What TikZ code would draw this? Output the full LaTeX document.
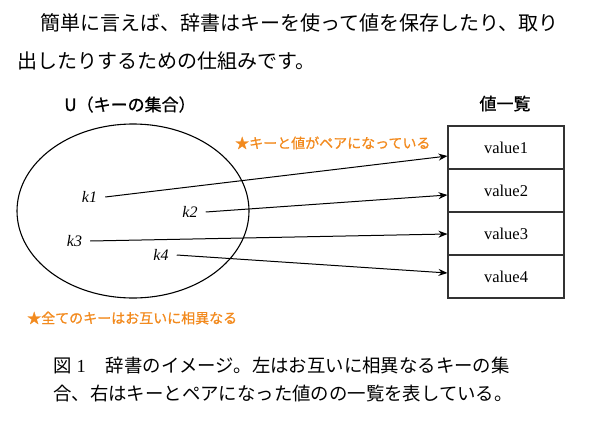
\documentclass[tikz,border=0pt]{standalone}
\usepackage{fontspec}
\setmainfont{Liberation Serif}
\newfontfamily\jp{Noto Sans CJK JP}
\newfontfamily\jpm[FakeBold=0.8]{Noto Sans CJK JP}
\XeTeXlinebreaklocale "ja"
\XeTeXlinebreakskip=0pt plus 2pt
\usetikzlibrary{shapes.geometric,arrows.meta,calc}
\definecolor{orng}{HTML}{F28A1E}
\begin{document}
\begin{tikzpicture}[x=1pt,y=-1pt,
  body/.style={anchor=base west,inner sep=0pt,font=\jp\fontsize{20}{20}\selectfont},
  captext/.style={anchor=base west,inner sep=0pt,font=\jp\fontsize{18.4}{18.4}\selectfont},
  note/.style={anchor=base west,inner sep=0pt,text=orng,font=\jpm\fontsize{14}{14}\selectfont},
  heading/.style={anchor=base,inner sep=0pt,font=\jpm\fontsize{17}{17}\selectfont},
  key/.style={inner xsep=8pt,inner ysep=1pt,font=\itshape\fontsize{16}{16}\selectfont},
  valbox/.style={draw=black!80,line width=1.1pt,minimum width=116pt,minimum height=43pt,inner sep=0pt,font=\fontsize{16.5}{16.5}\selectfont},
  link/.style={line width=1pt,-{Stealth[length=9pt,width=7pt]}}]
\useasboundingbox (0,0) rectangle (597,426);
% paragraph
\node[body] (p1) at (40,30) {簡単に言えば、辞書はキーを使って値を保存したり、取り};
\node[body] (p2) at (17,68) {出したりするための仕組みです。};
% titles
\node[heading] (tU) at (130,111) {U（キーの集合）};
\node[heading] (tV) at (505,110) {値一覧};
% set
\node[ellipse,draw,line width=1.1pt,minimum width=232pt,minimum height=174pt,inner sep=0pt] (U) at (133,211) {};
\node[key] (k1) at (89.5,197) {k1};
\node[key] (k2) at (190,212) {k2};
\node[key] (k3) at (74.5,241) {k3};
\node[key] (k4) at (161,255) {k4};
% values
\node[valbox] (v1) at (506,147.5) {value1};
\node[valbox] (v2) at (506,190.5) {value2};
\node[valbox] (v3) at (506,233.5) {value3};
\node[valbox] (v4) at (506,276.5) {value4};
% arrows
\draw[link] (k1.east) -- ($(v1.west)+(0,8.5)$);
\draw[link] (k2.east) -- ($(v2.west)+(0,4.5)$);
\draw[link] (k3.east) -- ($(v3.west)+(0,0.5)$);
\draw[link] (k4.east) -- ($(v4.west)+(0,-3.5)$);
% notes
\node[note] (n1) at (235,148.3) {★キーと値がペアになっている};
\node[note] (n2) at (27,323.3) {★全てのキーはお互いに相異なる};
% caption
\node[captext] (c1) at (53,372) {\hbox to 477pt{図\hspace{5pt}{\rmfamily 1}\hspace{20pt}辞書のイメージ。左はお互いに相異なるキーの集}};
\node[captext] (c2) at (53,400) {合、右はキーとペアになった値のの一覧を表している。};
\end{tikzpicture}
\end{document}
